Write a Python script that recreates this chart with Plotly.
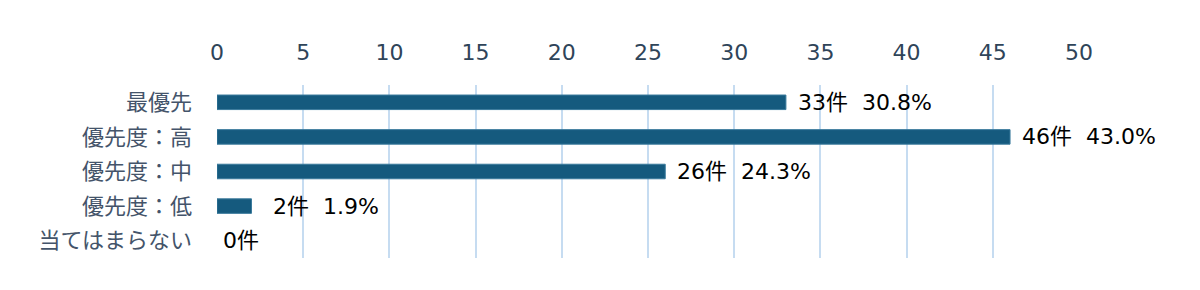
import plotly.graph_objects as go

categories = ["最優先", "優先度：高", "優先度：中", "優先度：低", "当てはまらない"]
counts = [33, 46, 26, 2, 0]
percents = ["30.8%", "43.0%", "24.3%", "1.9%", ""]
x_ticks = [0, 5, 10, 15, 20, 25, 30, 35, 40, 45, 50]

label_shift = [10, 10, 10, 20, 4]
CJK = "Noto Sans CJK JP"
MIX = "DejaVu Sans, Noto Sans CJK JP"

fig = go.Figure(go.Bar(
    y=categories,
    x=counts,
    orientation="h",
    width=0.42,
    marker=dict(color="#155a7e", line=dict(color="#3a7a9c", width=[1 if c > 0 else 0 for c in counts])),
    hoverinfo="skip",
))

for cat, c, p, s in zip(categories, counts, percents, label_shift):
    txt = f"{c}件\u00a0 {p}" if p else f"{c}件"
    fig.add_annotation(
        x=c, y=cat, text=txt, showarrow=False,
        xanchor="left", yanchor="middle", xshift=s,
        font=dict(family=MIX, size=22, color="#000000"),
    )

fig.update_layout(
    width=1200, height=290,
    margin=dict(l=217, r=121, t=85, b=32),
    paper_bgcolor="white", plot_bgcolor="white",
    showlegend=False,
    xaxis=dict(
        side="top", range=[0, 50], tickvals=x_ticks,
        showgrid=True, gridcolor="#c6dcf1", gridwidth=2,
        zeroline=False,
        tickfont=dict(family="DejaVu Sans", size=22, color="#2f4459"),
        ticklabelstandoff=20,
    ),
    yaxis=dict(
        autorange="reversed",
        tickfont=dict(family=CJK, size=22, color="#44546a"),
        ticklabelstandoff=24,
        showgrid=False,
    ),
)

fig.write_html("out.html")
